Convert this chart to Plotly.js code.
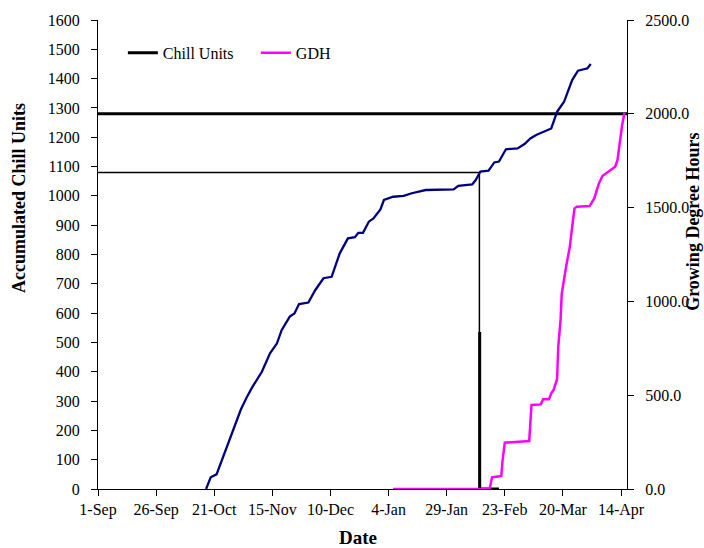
<!DOCTYPE html>
<html>
<head>
<meta charset="utf-8">
<script src="https://cdn.plot.ly/plotly-3.0.1.min.js"></script>
<style>
  html, body { margin: 0; padding: 0; background: #ffffff; }
  #chart { width: 704px; height: 548px; }
</style>
</head>
<body>
<div id="chart"></div>
<script>
// ---- Data ----
const tickDates = ['2010-09-01','2010-09-26','2010-10-21','2010-11-15','2010-12-10',
                   '2011-01-04','2011-01-29','2011-02-23','2011-03-20','2011-04-14'];
const tickLabels = ['1-Sep','26-Sep','21-Oct','15-Nov','10-Dec','4-Jan','29-Jan','23-Feb','20-Mar','14-Apr'];

// Accumulated chill units (navy curve, left axis)
const chillDates = [
  '2010-10-17 12:00','2010-10-19 12:00','2010-10-22','2010-11-01 12:00','2010-11-04',
  '2010-11-06 12:00','2010-11-10 12:00','2010-11-14','2010-11-17','2010-11-19',
  '2010-11-22 12:00','2010-11-24 12:00','2010-11-26 12:00','2010-11-30 12:00','2010-12-03 12:00',
  '2010-12-07','2010-12-10 12:00','2010-12-14','2010-12-17 12:00','2010-12-20 12:00',
  '2010-12-22','2010-12-24','2010-12-26 12:00','2010-12-28 12:00','2010-12-31 12:00',
  '2011-01-02','2011-01-06','2011-01-10 12:00','2011-01-14','2011-01-20',
  '2011-02-01','2011-02-03','2011-02-09','2011-02-10 12:00','2011-02-12 12:00',
  '2011-02-16','2011-02-18 12:00','2011-02-20 12:00','2011-02-23 12:00','2011-02-28 12:00',
  '2011-03-03 12:00','2011-03-06','2011-03-08 12:00','2011-03-12','2011-03-15',
  '2011-03-17 12:00','2011-03-20 12:00','2011-03-24','2011-03-26 12:00','2011-03-29',
  '2011-03-30 12:00','2011-04-01'];
const chillAccum = [
  0, 40, 50, 272, 313,
  349, 400, 463, 497, 542,
  588, 599, 631, 636, 679,
  719, 724, 804, 855, 859,
  874, 874, 912, 923, 954,
  986, 997, 1000, 1009, 1020,
  1022, 1034, 1039, 1054, 1083,
  1086, 1114, 1117, 1159, 1162,
  1177, 1196, 1208, 1219, 1230,
  1287, 1321, 1395, 1427, 1432,
  1435, 1450];

// Growing degree hours (magenta curve, right axis)
const gdhDates = [
  '2011-01-06','2011-02-16 12:00','2011-02-17 12:00','2011-02-21 12:00','2011-02-22',
  '2011-02-23','2011-03-01','2011-03-05 12:00','2011-03-06 12:00','2011-03-10 12:00',
  '2011-03-11 12:00','2011-03-14','2011-03-15','2011-03-16','2011-03-17 12:00',
  '2011-03-18','2011-03-19','2011-03-19 12:00','2011-03-21 12:00','2011-03-23',
  '2011-03-24','2011-03-25','2011-03-26','2011-03-31 12:00','2011-04-02 12:00',
  '2011-04-04 12:00','2011-04-06','2011-04-08 12:00','2011-04-11 12:00','2011-04-12 12:00',
  '2011-04-13 12:00','2011-04-14 12:00','2011-04-15 12:00'];
const gdhValues = [
  0, 0, 62, 69, 146,
  247, 252, 256, 448, 451,
  478, 478, 510, 528, 585,
  758, 901, 1040, 1194, 1292,
  1398, 1496, 1505, 1508, 1549,
  1629, 1668, 1691, 1718, 1754,
  1860, 1940, 2006];

// Chill unit requirement markers (left axis)
const axisStart = '2010-09-01';
const axisEnd = '2011-04-16 14:00';
const requirementHigh = 1280;
const requirementLow = 1080;
const requirementDate = '2011-02-12 02:00';

// "Chill Units" black series (spike and zero baseline)
const chillUnitDates = ['2011-02-12 05:00','2011-02-12 05:00','2011-02-20 12:00'];
const chillUnitValues = [536, 0, 0];

// ---- Traces ----
const serif = 'Liberation Serif, Times New Roman, serif';

const traces = [
  { x: [axisStart, axisEnd], y: [requirementHigh, requirementHigh], mode: 'lines',
    line: { color: '#000000', width: 3 }, showlegend: false, hoverinfo: 'skip', xaxis: 'x', yaxis: 'y' },
  { x: [axisStart, requirementDate, requirementDate], y: [requirementLow, requirementLow, 0], mode: 'lines',
    line: { color: '#000000', width: 1.5 }, showlegend: false, hoverinfo: 'skip', xaxis: 'x', yaxis: 'y' },
  { x: chillUnitDates, y: chillUnitValues, mode: 'lines', name: 'Chill Units',
    line: { color: '#000000', width: 3 }, xaxis: 'x', yaxis: 'y' },
  { x: chillDates, y: chillAccum, mode: 'lines', name: 'Accumulated Chill Units',
    line: { color: '#000080', width: 2.3 }, showlegend: false, xaxis: 'x', yaxis: 'y' },
  { x: gdhDates, y: gdhValues, mode: 'lines', name: 'GDH',
    line: { color: '#FF00FF', width: 2.5 }, xaxis: 'x', yaxis: 'y2' }
];

const layout = {
  width: 704, height: 548,
  margin: { l: 98, r: 77, t: 20, b: 59, pad: 0 },
  paper_bgcolor: '#ffffff', plot_bgcolor: '#ffffff',
  font: { family: serif, size: 16, color: '#000000' },
  showlegend: true,
  legend: {
    orientation: 'h', x: 0.047, y: 0.966, xanchor: 'left', yanchor: 'top',
    font: { family: serif, size: 16, color: '#000000' },
    bgcolor: 'rgba(0,0,0,0)', borderwidth: 0,
    entrywidth: 88, entrywidthmode: 'pixels', traceorder: 'normal'
  },
  xaxis: {
    type: 'date', range: [axisStart, axisEnd],
    tickmode: 'array', tickvals: tickDates, ticktext: tickLabels,
    showgrid: false, zeroline: false,
    showline: true, linecolor: '#000000', linewidth: 1,
    ticks: 'outside', ticklen: 6, tickcolor: '#000000', tickwidth: 1,
    tickfont: { family: serif, size: 16, color: '#000000' }
  },
  xaxis2: {
    overlaying: 'x', side: 'top', type: 'date', range: [axisStart, axisEnd],
    showline: true, linecolor: '#a0a0a0', linewidth: 1,
    showticklabels: false, ticks: '', showgrid: false, zeroline: false
  },
  yaxis: {
    range: [0, 1600], dtick: 100, tick0: 0,
    showgrid: false, zeroline: false,
    showline: true, linecolor: '#000000', linewidth: 1,
    ticks: 'outside', ticklen: 6, tickcolor: '#000000',
    ticklabelstandoff: 8,
    tickfont: { family: serif, size: 16, color: '#000000' }
  },
  yaxis2: {
    overlaying: 'y', side: 'right', range: [0, 2500], dtick: 500, tick0: 0,
    tickformat: '.1f',
    showgrid: false, zeroline: false,
    showline: true, linecolor: '#000000', linewidth: 1,
    ticks: 'outside', ticklen: 6, tickcolor: '#000000',
    ticklabelstandoff: 8,
    tickfont: { family: serif, size: 16, color: '#000000' }
  },
  yaxis3: {
    overlaying: 'y', side: 'right', range: [0, 2500], dtick: 500, tick0: 0,
    showgrid: false, zeroline: false, showline: false, showticklabels: false,
    ticks: 'inside', ticklen: 6, tickcolor: '#000000'
  },
  annotations: [
    { text: '<b>Accumulated Chill Units</b>', xref: 'paper', yref: 'paper',
      x: -0.148, y: 0.62, xanchor: 'center', yanchor: 'middle', textangle: -90,
      showarrow: false, font: { family: serif, size: 18, color: '#000000' } },
    { text: '<b>Growing Degree Hours</b>', xref: 'paper', yref: 'paper',
      x: 1.125, y: 0.57, xanchor: 'center', yanchor: 'middle', textangle: -90,
      showarrow: false, font: { family: serif, size: 18, color: '#000000' } },
    { text: '<b>Date</b>', xref: 'paper', yref: 'paper',
      x: 0.492, y: -0.104, xanchor: 'center', yanchor: 'middle',
      showarrow: false, font: { family: serif, size: 19, color: '#000000' } }
  ]
};

Plotly.newPlot('chart', traces, layout, { displayModeBar: false, staticPlot: true });
</script>
</body>
</html>
